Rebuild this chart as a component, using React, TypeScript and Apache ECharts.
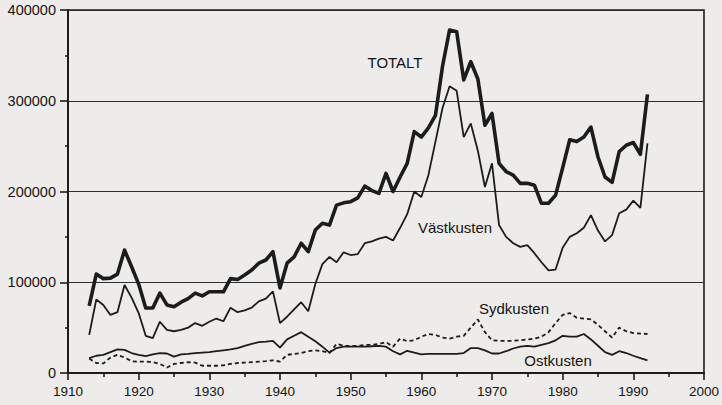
import React, { useEffect, useRef } from "react";
import * as echarts from "echarts";

const FIRST_YEAR = 1913;

const totalt = [
  74000, 109000, 104000, 104500, 109000, 135500, 117000, 98000, 71600, 71600,
  88000, 75000, 73000, 78000, 82000, 88000, 85000, 89500, 89500, 89500,
  104000, 103000, 108000, 113500, 121000, 124500, 133700, 93700, 121000, 128000,
  143000, 133700, 157600, 165000, 163000, 185000, 187500, 188800, 193000, 206000,
  201000, 198000, 220000, 200000, 216000, 231000, 266000, 260000, 270000, 284000,
  338000, 378000, 376000, 323000, 343000, 324000, 273000, 286000, 231000, 222000,
  218000, 209000, 209000, 207000, 187000, 187000, 196000, 226000, 257000, 255000,
  260000, 271000, 238000, 216000, 210000, 244000, 251000, 254000, 241000, 307000,
];

const vastkusten = [
  42000, 81000, 75000, 64000, 67000, 97000, 83000, 66000, 41000, 38500,
  56500, 47500, 46000, 47500, 50000, 55000, 52000, 56500, 60000, 57000,
  72000, 67000, 69000, 72000, 79000, 82000, 90000, 55000, 62000, 70000,
  78000, 68000, 98000, 120000, 128000, 122000, 133000, 130000, 131000, 143000,
  145000, 148000, 150000, 146000, 160000, 175000, 200000, 194000, 218000, 255000,
  292000, 316000, 311000, 260000, 275000, 245000, 205000, 231000, 163000, 150000,
  143000, 139000, 141000, 132000, 122000, 113000, 114000, 138000, 150000, 154000,
  160000, 174000, 157000, 145000, 152000, 176000, 180000, 190000, 182000, 253000,
];

const ostkusten = [
  16500, 19000, 20000, 23000, 26000, 25500, 22000, 20000, 18500, 20500,
  22000, 21500, 18000, 20500, 21000, 22000, 22500, 23000, 24000, 25000,
  26000, 27500, 30000, 32000, 34000, 34500, 35500, 28000, 37000, 41000,
  45000, 40000, 35000, 29000, 22500, 27500, 29000, 29000, 29000, 29000,
  29500, 30000, 29000, 24000, 20500, 24500, 22500, 20500, 21000, 21000,
  21000, 21000, 21000, 22000, 27500, 27500, 25000, 21500, 21500, 24000,
  27000, 29000, 30000, 29000, 31000, 33000, 36000, 41000, 40000, 40000,
  43000, 37000, 30000, 23000, 20000, 24000, 22000, 19000, 16500, 14000,
];

const sydkusten = [
  16000, 11000, 10500, 17000, 20000, 17000, 13000, 12500, 12500, 12000,
  10000, 6000, 10000, 11000, 12000, 11500, 8000, 8000, 8000, 8500,
  10000, 11000, 11500, 12000, 12500, 13000, 14000, 12500, 20000, 21000,
  22000, 24000, 25000, 24000, 22000, 32000, 30000, 30000, 30000, 31000,
  31000, 32000, 34000, 29000, 38000, 35000, 36000, 40000, 43000, 42000,
  39000, 38000, 40000, 41000, 50000, 59000, 45000, 36000, 35500, 35500,
  35500, 36000, 37000, 38000, 40000, 45000, 55000, 64000, 66000, 61000,
  60000, 59000, 53000, 46000, 39000, 50000, 46000, 44000, 43500, 43000,
];

const seriesLabels = ["TOTALT", "Västkusten", "Sydkusten", "Ostkusten"];

const FONT = "'Liberation Sans', Arial, Helvetica, sans-serif";
const INK = "#1c1c1c";

function pairs(values: number[]) {
  return values.map((v, i) => [FIRST_YEAR + i, v]);
}

export default function App() {
  const ref = useRef<HTMLDivElement>(null);

  useEffect(() => {
    if (!ref.current) return;
    const chart = echarts.init(ref.current, null, { renderer: "svg" });
    const label = (t: string, x: number, y: number) => ({
      type: "text",
      x,
      y,
      style: {
        text: t,
        fill: "#141414",
        font: `15px ${FONT}`,
        textAlign: "center",
        textVerticalAlign: "middle",
      },
      silent: true,
    });
    chart.setOption({
      animation: false,
      backgroundColor: "#edecea",
      grid: {
        left: 68,
        top: 10,
        right: 16,
        bottom: 32,
        show: true,
        borderColor: INK,
        borderWidth: 1.6,
      },
      xAxis: {
        type: "value",
        min: 1910,
        max: 2000,
        interval: 10,
        axisLine: { show: true, lineStyle: { color: INK, width: 2 } },
        axisTick: { show: true, length: 7, lineStyle: { color: INK, width: 1.6 } },
        minorTick: { show: true, splitNumber: 2, length: 4, lineStyle: { color: INK, width: 1.6 } },
        splitLine: { show: false },
        axisLabel: {
          color: "#141414",
          fontSize: 13.5,
          fontFamily: FONT,
          margin: 11,
          formatter: (v: number) => String(v),
        },
      },
      yAxis: {
        type: "value",
        min: 0,
        max: 400000,
        interval: 100000,
        axisLine: { show: true, lineStyle: { color: INK, width: 2 } },
        axisTick: { show: true, length: 8, lineStyle: { color: INK, width: 1.6 } },
        minorTick: { show: true, splitNumber: 2, length: 3, lineStyle: { color: INK, width: 1.6 } },
        splitLine: { show: true, lineStyle: { color: "#2e2e2e", width: 1.1 } },
        axisLabel: {
          color: "#141414",
          fontSize: 14.5,
          fontFamily: FONT,
          margin: 12,
          formatter: (v: number) => String(v),
        },
      },
      series: [
        {
          name: seriesLabels[0],
          type: "line",
          data: pairs(totalt),
          symbol: "none",
          lineStyle: { color: INK, width: 3.6, join: "round" },
          z: 5,
        },
        {
          name: seriesLabels[1],
          type: "line",
          data: pairs(vastkusten),
          symbol: "none",
          lineStyle: { color: INK, width: 1.8 },
          z: 4,
        },
        {
          name: seriesLabels[2],
          type: "line",
          data: pairs(sydkusten),
          symbol: "none",
          lineStyle: { color: INK, width: 1.8, type: [4, 3] },
          z: 3,
        },
        {
          name: seriesLabels[3],
          type: "line",
          data: pairs(ostkusten),
          symbol: "none",
          lineStyle: { color: INK, width: 1.8 },
          z: 3,
        },
      ],
      graphic: [
        label(seriesLabels[0], 395, 62),
        label(seriesLabels[1], 455, 227),
        label(seriesLabels[2], 514, 308),
        label(seriesLabels[3], 558, 360),
      ],
    });
    return () => chart.dispose();
  }, []);

  return (
    <div
      ref={ref}
      style={{ position: "absolute", left: 0, top: 0, width: 722, height: 405 }}
    />
  );
}
